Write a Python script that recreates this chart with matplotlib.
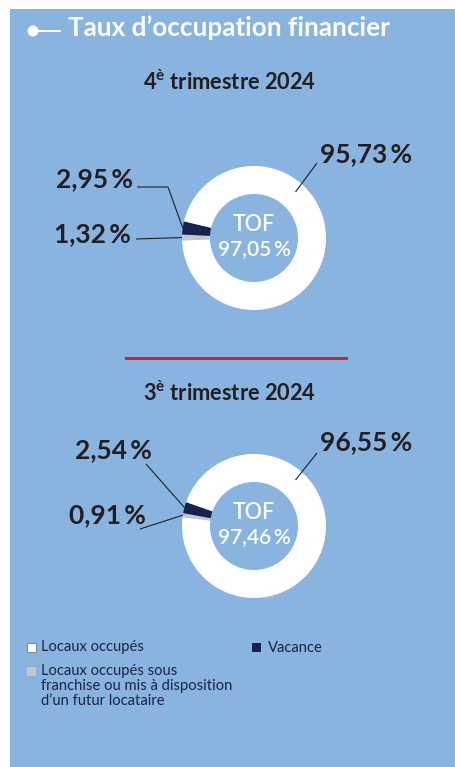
"""
Taux d'occupation financier: two donut charts (Q4 2024 vs Q3 2024).
Writes out.png (455x767 px).
"""
import numpy as np
import matplotlib.pyplot as plt
from matplotlib.patches import Rectangle, Circle

plt.rcParams["font.family"] = ["Lato", "DejaVu Sans"]
plt.rcParams["mathtext.fontset"] = "custom"
plt.rcParams["mathtext.rm"] = "Lato"
plt.rcParams["mathtext.bf"] = "Lato:bold"
plt.rcParams["mathtext.default"] = "bf"

# ---- data -------------------------------------------------------------
TITLE = "Taux d\u2019occupation financier"
QUARTER_NUM = ["4", "3"]
QUARTER_SUP = ["\u00e8", "\u00e8"]
YEAR = "2024"
SEGMENTS = [
    "Locaux occup\u00e9s sous\nfranchise ou mis \u00e0 disposition\nd\u2019un futur locataire",
    "Vacance",
    "Locaux occup\u00e9s",
]
Q4_VALUES = [1.32, 2.95, 95.73]
Q3_VALUES = [0.91, 2.54, 96.55]
TOF = [97.05, 97.46]

# ---- style ------------------------------------------------------------
W, H = 455, 767
BG = "#88b4df"
NAVY = "#19224f"
GREY = "#c4c7cc"
DARK = "#231f20"
COLORS = [GREY, NAVY, "white"]
CX, R_OUT, R_IN = 254, 72, 44


def iy(y):
    """image pixel row -> data y (y axis points up)."""
    return H - y


def fmt(v):
    return f"{v:.2f}".replace(".", ",") + "\u2009%"


def wedge_edge(w, cx, cy):
    a = np.deg2rad((w.theta1 + w.theta2) / 2)
    return cx + R_OUT * np.cos(a), cy + R_OUT * np.sin(a)


def draw_donut(ax, cy_img, values, tof, start, layout):
    cy = iy(cy_img)
    wedges, _ = ax.pie(values, colors=COLORS, startangle=start, counterclock=False,
                       radius=R_OUT, center=(CX, cy),
                       wedgeprops=dict(width=R_OUT - R_IN, linewidth=0))

    ax.text(CX, iy(cy_img - 7), "TOF", color="white", fontsize=15.5,
            ha="center", va="baseline", fontweight="semibold")
    ax.text(CX, iy(cy_img + 17), fmt(tof), color="white", fontsize=15,
            ha="center", va="baseline", fontweight="semibold")

    for i, (w, v) in enumerate(zip(wedges, values)):
        tx, ty, ha, path = layout[i]
        ax.text(tx, iy(ty), fmt(v), color=DARK, fontsize=19, fontweight="bold",
                ha=ha, va="baseline")
        if i == 2:
            # leader into the white ring, up-right
            a = np.deg2rad(48)
            end = (CX + 62 * np.cos(a), cy + 62 * np.sin(a))
        else:
            end = wedge_edge(w, CX, cy)
        xs = [p[0] for p in path] + [end[0]]
        ys = [iy(p[1]) for p in path] + [end[1]]
        ax.plot(xs, ys, color=DARK, lw=0.8, solid_capstyle="butt", zorder=5)


fig = plt.figure(figsize=(W / 100, H / 100), dpi=100)
ax = fig.add_axes([0, 0, 1, 1])

ax.add_patch(Rectangle((10, 0), W - 10, iy(9), facecolor=BG, edgecolor="none", zorder=0))

# title with bullet
ax.add_patch(Circle((33, iy(31)), 5.5, facecolor="white", edgecolor="none"))
ax.plot([37, 60], [iy(31), iy(31)], color="white", lw=1.4)
ax.text(68, iy(36), TITLE, color="white", fontsize=18.8, fontweight="bold",
        ha="left", va="baseline")

# quarter headings
for num, sup, yb in zip(QUARTER_NUM, QUARTER_SUP, [90.5, 401]):
    ax.text(229, iy(yb), f"{num}$^{{{sup}}}$ trimestre {YEAR}", color=DARK,
            fontsize=15.7, fontweight="bold", ha="center", va="baseline")

# layout per segment: text x, baseline y, ha, leader path (image px)
layout_q4 = [
    (131, 242, "right", [(136, 239)]),
    (133, 187, "right", [(137, 187), (168, 187)]),
    (320, 162, "left", [(317, 163)]),
]
layout_q3 = [
    (146, 523, "right", [(140, 529)]),
    (152, 458, "right", [(146, 464)]),
    (320, 450, "left", [(317, 453)]),
]
draw_donut(ax, 238, Q4_VALUES, TOF[0], 182, layout_q4)
draw_donut(ax, 526, Q3_VALUES, TOF[1], 173, layout_q3)

# separator
ax.plot([126, 346], [iy(358), iy(358)], color="#c8243c", lw=2.2)

# legend (drawn by hand so the marker sits on the first line);
# text y is the baseline of the last line
legend_items = [
    (SEGMENTS[2], "white", "#8a8a8a", 27, 643, 41, 651.5),
    (SEGMENTS[0], GREY, "none", 27, 667, 41, 705),
    (SEGMENTS[1], NAVY, "none", 252, 643, 268, 651.5),
]
for label, fc, ec, mx, my, tx, ty in legend_items:
    ax.add_patch(Rectangle((mx, iy(my + 8.5)), 8.5, 8.5, facecolor=fc,
                           edgecolor=ec, lw=0.8, zorder=3))
    ax.text(tx, iy(ty), label, color="#1c2340", fontsize=10.6, ha="left",
            va="baseline", linespacing=1.1)

ax.set_xlim(0, W)
ax.set_ylim(0, H)
ax.set_aspect("auto")
ax.axis("off")

fig.savefig("out.png", dpi=100, facecolor="white")
